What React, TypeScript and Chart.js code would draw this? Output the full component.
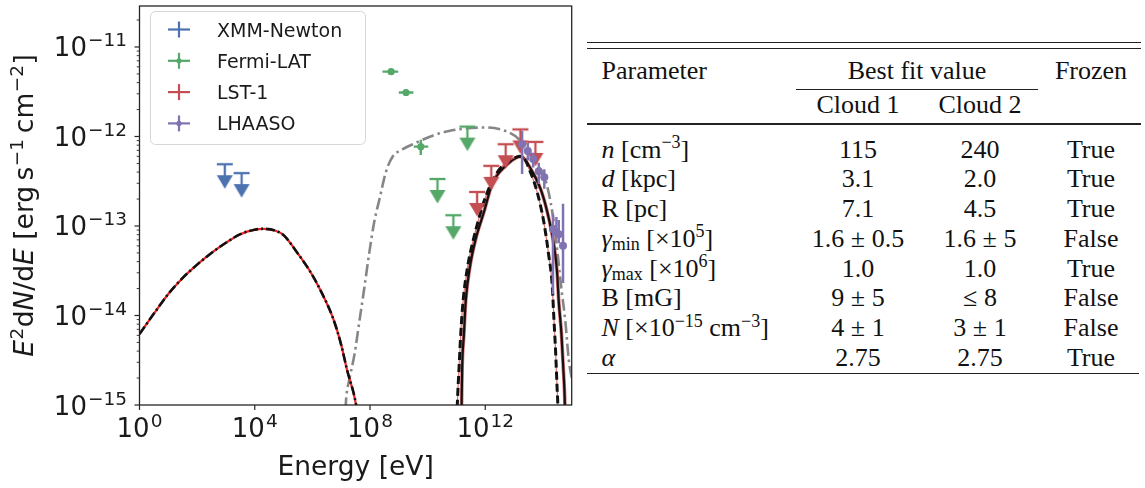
import React, { useEffect, useRef } from "react";
import { Chart, registerables } from "chart.js";

Chart.register(...registerables);

// ---------------- SED data (E in eV, E^2 dN/dE in erg s^-1 cm^-2) ----------------
const xmmE = [9.1e2, 3.5e3];
const xmmUL = [4.9e-13, 3.9e-13];

const fermiE = [5.4e8, 1.78e9, 5.8e9];
const fermiF = [5.3e-12, 3.1e-12, 7.7e-13];
const fermiELo = [2.7e8, 1.0e9, 3.3e9];
const fermiEHi = [9.5e8, 3.2e9, 1.05e10];
const fermiFLo = [4.9e-12, 2.85e-12, 6.2e-13];
const fermiFHi = [5.7e-12, 3.35e-12, 9.2e-13];

const fermiULE = [2.2e10, 7.8e10, 2.4e11];
const fermiUL = [3.35e-13, 1.32e-13, 1.29e-12];

const lstE = [5.2e11, 1.62e12, 5.1e12, 1.66e13, 5.5e13];
const lstUL = [2.4e-13, 4.7e-13, 8.2e-13, 1.2e-12, 8.7e-13];

const lhaasoE = [1.9e13, 3.0e13, 4.6e13, 7.2e13, 1.12e14, 2.24e14, 2.95e14, 3.55e14, 5.0e14];
const lhaasoF = [8.2e-13, 6.9e-13, 5.6e-13, 4.1e-13, 3.5e-13, 9.2e-14, 8.5e-14, 8.1e-14, 6.0e-14];
const lhaasoFLo = [3.8e-13, 5.4e-13, 4.5e-13, 2.95e-13, 2.6e-13, 1.73e-14, 7.6e-14, 6.4e-14, 2.3e-14];
const lhaasoFHi = [1.15e-12, 8.5e-13, 6.6e-13, 5.1e-13, 4.3e-13, 1.37e-13, 1.26e-13, 1.17e-13, 1.77e-13];

// model curves
const syncE = [1, 3.16, 10, 31.6, 100, 316, 1000, 3160, 1.0e4, 2.0e4, 5.0e4, 1.0e5, 3.16e5, 7.9e5, 1.78e6, 5.1e6, 1.0e7, 1.58e7, 3.3e7, 4.0e7];
const syncF = [6.2e-15, 1.05e-14, 1.74e-14, 2.63e-14, 3.7e-14, 5.0e-14, 6.5e-14, 8.1e-14, 9.1e-14, 9.3e-14, 8.9e-14, 7.9e-14, 4.9e-14, 3.2e-14, 2.0e-14, 9.5e-15, 4.7e-15, 2.5e-15, 1.0e-15, 6.3e-16];

const icE = [1.3e7, 1.48e7, 1.9e7, 2.9e7, 4.3e7, 6.3e7, 9.5e7, 1.41e8, 2.14e8, 3.55e8, 6.0e8, 1.35e9, 3.9e9, 1.48e10, 5.5e10, 2.1e11, 1.02e12, 5.1e12, 1.48e13, 6.2e13, 1.35e14, 2.5e14, 4.5e14, 6.0e14, 7.9e14, 1.0e15];
const icF = [5e-16, 1.15e-15, 1.9e-15, 3.7e-15, 8.7e-15, 2.0e-14, 5.1e-14, 1.12e-13, 2.0e-13, 4.0e-13, 5.9e-13, 7.2e-13, 8.5e-13, 1.02e-12, 1.15e-12, 1.23e-12, 1.26e-12, 1.15e-12, 9.3e-13, 4.9e-13, 2.95e-13, 1.0e-13, 1.86e-14, 8.7e-15, 3.2e-15, 2.0e-15];

const ppAE = [1.45e11, 1.51e11, 1.58e11, 1.82e11, 2.1e11, 2.9e11, 4.7e11, 9.1e11, 1.74e12, 5.1e12, 1.29e13, 1.74e13, 3.7e13, 8.3e13, 1.41e14, 2.4e14, 3.1e14, 3.55e14, 4.4e14, 5.1e14, 5.8e14, 6.0e14];
const ppAF = [5e-16, 1.0e-15, 2.6e-15, 6.2e-15, 1.45e-14, 3.4e-14, 7.2e-14, 1.45e-13, 2.95e-13, 4.7e-13, 5.9e-13, 6.0e-13, 4.4e-13, 2.6e-13, 1.45e-13, 6.2e-14, 3.1e-14, 1.45e-14, 6.3e-15, 2.6e-15, 1.0e-15, 5e-16];

const ppBE = [1.0e11, 1.07e11, 1.23e11, 1.41e11, 1.7e11, 2.4e11, 4.1e11, 1.02e12, 2.95e12, 8.5e12, 1.9e13, 3.7e13, 6.3e13, 1.07e14, 1.58e14, 2.1e14, 2.4e14, 2.75e14, 3.1e14, 3.3e14, 3.45e14];
const ppBF = [5e-16, 1.0e-15, 2.6e-15, 6.2e-15, 1.45e-14, 3.4e-14, 7.6e-14, 2.1e-13, 4.2e-13, 5.6e-13, 6.0e-13, 4.0e-13, 2.4e-13, 1.12e-13, 4.8e-14, 2.2e-14, 9.5e-15, 4.1e-15, 1.6e-15, 1.0e-15, 5e-16];

// axes
const xMin = 1;
const xMax = 1e15;
const yMin = 1e-15;
const yMax = 2.87e-11;
const xTickExps = [0, 4, 8, 12];
const yTickExps = [-15, -14, -13, -12, -11];
const legendLabels = ["XMM-Newton", "Fermi-LAT", "LST-1", "LHAASO"];

// ---------------- table data ----------------
const tableHeader = ["Parameter", "Best fit value", "Frozen"];
const cloudHeaders = ["Cloud 1", "Cloud 2"];
const cloud1Values = ["115", "3.1", "7.1", "1.6 ± 0.5", "1.0", "9 ± 5", "4 ± 1", "2.75"];
const cloud2Values = ["240", "2.0", "4.5", "1.6 ± 5", "1.0", "≤ 8", "3 ± 1", "2.75"];
const frozenValues = ["True", "True", "True", "False", "True", "False", "False", "True"];

function Sup(props: { children: React.ReactNode }) {
  return <span style={{ fontSize: 18, position: "relative", top: -9.5, lineHeight: 0 }}>{props.children}</span>;
}
function Sub(props: { children: React.ReactNode }) {
  return <span style={{ fontSize: 18, position: "relative", top: 3.5, lineHeight: 0 }}>{props.children}</span>;
}

const paramLabels: React.ReactNode[] = [
  <><i>n</i> [cm<Sup>−3</Sup>]</>,
  <><i>d</i> [kpc]</>,
  <>R [pc]</>,
  <><i>γ</i><Sub>min</Sub> [×10<Sup>5</Sup>]</>,
  <><i>γ</i><Sub>max</Sub> [×10<Sup>6</Sup>]</>,
  <>B [mG]</>,
  <><i>N</i> [×10<Sup>−15</Sup> cm<Sup>−3</Sup>]</>,
  <><i>α</i></>,
];

// ---------------- styles ----------------
const COL = { xmm: "#4c72b0", fermi: "#55a868", lst: "#c44e52", lhaaso: "#8172b2" };
const FONT = '"DejaVu Sans", sans-serif';

function ulMarker(color: string): HTMLCanvasElement {
  const c = document.createElement("canvas");
  const w = 18, h = 54;
  c.width = w;
  c.height = h;
  const g = c.getContext("2d")!;
  const cy = h / 2;
  g.strokeStyle = color;
  g.fillStyle = color;
  g.lineWidth = 2.3;
  g.beginPath();
  g.moveTo(1, cy);
  g.lineTo(w - 1, cy);
  g.stroke();
  g.beginPath();
  g.moveTo(w / 2, cy);
  g.lineTo(w / 2, cy + 12);
  g.stroke();
  g.beginPath();
  g.moveTo(1, cy + 11);
  g.lineTo(w - 1, cy + 11);
  g.lineTo(w / 2, cy + 24.5);
  g.closePath();
  g.fill();
  return c;
}

const pts = (xs: number[], ys: number[]) => xs.map((x, i) => ({ x, y: ys[i] }));

function seg(ctx: CanvasRenderingContext2D, x1: number, y1: number, x2: number, y2: number) {
  ctx.beginPath();
  ctx.moveTo(x1, y1);
  ctx.lineTo(x2, y2);
  ctx.stroke();
}

function drawPow(ctx: CanvasRenderingContext2D, x: number, y: number, exp: string, align: "center" | "right") {
  const base = 26, sup = 18.5, raise = 10;
  ctx.font = `${base}px ${FONT}`;
  const wb = ctx.measureText("10").width;
  ctx.font = `${sup}px ${FONT}`;
  const we = ctx.measureText(exp).width;
  const total = wb + 1 + we;
  const x0 = align === "center" ? x - total / 2 : x - total;
  ctx.textAlign = "left";
  ctx.textBaseline = "alphabetic";
  ctx.font = `${base}px ${FONT}`;
  ctx.fillText("10", x0, y);
  ctx.font = `${sup}px ${FONT}`;
  ctx.fillText(exp, x0 + wb + 1, y - raise);
}

const expText = (e: number) => (e < 0 ? "\u2212" + String(-e) : String(e));

const sedPlugin = {
  id: "sedDecor",
  afterDatasetsDraw(chart: any) {
    const ctx: CanvasRenderingContext2D = chart.ctx;
    const xs = chart.scales.x, ys = chart.scales.y;
    const { left, right, top, bottom } = chart.chartArea;
    ctx.save();
    ctx.beginPath();
    ctx.rect(left, top, right - left, bottom - top);
    ctx.clip();
    ctx.lineWidth = 2.4;
    ctx.strokeStyle = COL.fermi;
    fermiE.forEach((e, i) => {
      const x = xs.getPixelForValue(e), y = ys.getPixelForValue(fermiF[i]);
      seg(ctx, xs.getPixelForValue(fermiELo[i]), y, xs.getPixelForValue(fermiEHi[i]), y);
      seg(ctx, x, ys.getPixelForValue(fermiFLo[i]), x, ys.getPixelForValue(fermiFHi[i]));
    });
    ctx.strokeStyle = COL.lhaaso;
    ctx.lineWidth = 2.5;
    lhaasoE.forEach((e, i) => {
      const x = xs.getPixelForValue(e);
      seg(ctx, x, ys.getPixelForValue(lhaasoFLo[i]), x, ys.getPixelForValue(lhaasoFHi[i]));
    });
    ctx.restore();
  },
  afterDraw(chart: any) {
    const ctx: CanvasRenderingContext2D = chart.ctx;
    const xs = chart.scales.x, ys = chart.scales.y;
    const { left, right, top, bottom } = chart.chartArea;
    ctx.save();
    // frame
    ctx.strokeStyle = "#262626";
    ctx.lineWidth = 1.3;
    ctx.strokeRect(left, top, right - left, bottom - top);
    ctx.fillStyle = "#1a1a1a";
    ctx.lineWidth = 1.2;
    // x ticks
    xTickExps.forEach((e) => {
      const x = xs.getPixelForValue(Math.pow(10, e));
      seg(ctx, x, bottom, x, bottom + 5);
      drawPow(ctx, x, 436.5, expText(e), "center");
    });
    // y ticks
    yTickExps.forEach((e) => {
      const y = ys.getPixelForValue(Math.pow(10, e));
      seg(ctx, left - 5, y, left, y);
      drawPow(ctx, 127, y + 9.5, expText(e), "right");
      for (let m = 2; m <= 9; m++) {
        const v = m * Math.pow(10, e);
        if (v > yMax) break;
        const ym = ys.getPixelForValue(v);
        ctx.lineWidth = 0.9;
        seg(ctx, left - 2.8, ym, left, ym);
        ctx.lineWidth = 1.2;
      }
    });
    // x label
    ctx.font = `26.5px ${FONT}`;
    ctx.textAlign = "center";
    ctx.textBaseline = "alphabetic";
    ctx.fillText("Energy [eV]", (left + right) / 2, 475);
    // y label
    const parts: { t: string; it?: boolean; sup?: boolean }[] = [
      { t: "E", it: true }, { t: "2", sup: true }, { t: "d" }, { t: "N", it: true }, { t: "/d" },
      { t: "E", it: true }, { t: " [erg\u2009s" }, { t: "\u22121", sup: true }, { t: "\u2009cm" },
      { t: "\u22122", sup: true }, { t: "]" },
    ];
    const fontOf = (p: any) => (p.sup ? `18.5px ${FONT}` : `${p.it ? "oblique " : ""}26.5px ${FONT}`);
    let total = 0;
    const widths = parts.map((p) => {
      ctx.font = fontOf(p);
      const w = ctx.measureText(p.t).width + (p.sup ? 1 : 0);
      total += w;
      return w;
    });
    ctx.translate(33, (top + bottom) / 2);
    ctx.rotate(-Math.PI / 2);
    ctx.textAlign = "left";
    let cx = -total / 2;
    parts.forEach((p, i) => {
      ctx.font = fontOf(p);
      ctx.fillText(p.t, cx + (p.sup ? 0.5 : 0), p.sup ? -10.5 : 0);
      cx += widths[i];
    });
    ctx.setTransform(1, 0, 0, 1, 0, 0);
    // legend
    ctx.beginPath();
    (ctx as any).roundRect(150.5, 11.5, 215, 133, 5);
    ctx.fillStyle = "rgba(255,255,255,0.8)";
    ctx.fill();
    ctx.strokeStyle = "#d6d6d6";
    ctx.lineWidth = 1;
    ctx.stroke();
    const cols = [COL.xmm, COL.fermi, COL.lst, COL.lhaaso];
    legendLabels.forEach((lab, i) => {
      const y = 29.5 + i * 31.3;
      ctx.strokeStyle = cols[i];
      ctx.lineWidth = 2.2;
      seg(ctx, 168, y, 190, y);
      seg(ctx, 179, y - 8, 179, y + 8);
      if (i === 1 || i === 3) {
        ctx.fillStyle = cols[i];
        ctx.beginPath();
        ctx.arc(179, y, 2.6, 0, Math.PI * 2);
        ctx.fill();
      }
      ctx.fillStyle = "#1a1a1a";
      ctx.font = `19px ${FONT}`;
      ctx.textAlign = "left";
      ctx.fillText(lab, 217, y + 7);
    });
    ctx.restore();
  },
};

function SedChart() {
  const ref = useRef<HTMLCanvasElement>(null);
  useEffect(() => {
    const canvas = ref.current!;
    const line = (data: any, color: string, width: number, dash: number[], order: number) => ({
      type: "scatter",
      data,
      showLine: true,
      borderColor: color,
      borderWidth: width,
      borderDash: dash,
      pointRadius: 0,
      fill: false,
      cubicInterpolationMode: "monotone",
      order,
    });
    const chart = new Chart(canvas, {
      type: "scatter",
      data: {
        datasets: [
          { data: pts(lhaasoE, lhaasoF), pointStyle: "circle", pointRadius: 4, backgroundColor: COL.lhaaso, borderWidth: 0, order: 0 },
          { data: pts(lstE, lstUL), pointStyle: ulMarker(COL.lst), pointRadius: 5, order: 1 },
          { data: pts(fermiE, fermiF), pointStyle: "circle", pointRadius: 3.6, backgroundColor: COL.fermi, borderWidth: 0, order: 1 },
          { data: pts(fermiULE, fermiUL), pointStyle: ulMarker(COL.fermi), pointRadius: 5, order: 1 },
          { data: pts(xmmE, xmmUL), pointStyle: ulMarker(COL.xmm), pointRadius: 5, order: 1 },
          line(pts(ppBE, ppBF), "#111", 3, [8, 4], 4),
          line(pts(ppBE, ppBF), "rgba(205,80,80,0.8)", 1.2, [], 5),
          line(pts(ppAE, ppAF), "#111", 2.2, [], 6),
          line(pts(ppAE, ppAF), "rgba(205,80,80,0.8)", 3.6, [], 7),
          line(pts(syncE, syncF), "#111", 2.6, [9, 3, 2, 3], 8),
          line(pts(syncE, syncF), "#ee2222", 2.2, [], 9),
          line(pts(icE, icF), "rgba(128,128,128,0.95)", 2.6, [12, 4, 2.5, 4], 10),
        ] as any,
      },
      options: {
        responsive: false,
        animation: false,
        devicePixelRatio: 1,
        layout: { padding: { top: 1.5, right: 8.3, left: 0, bottom: 0 } },
        plugins: { legend: { display: false }, tooltip: { enabled: false } },
        scales: {
          x: {
            type: "logarithmic",
            min: xMin,
            max: xMax,
            bounds: "data",
            grid: { display: false, drawTicks: false },
            border: { display: false },
            ticks: { display: false },
            afterFit: (s: any) => { s.height = 83; },
          },
          y: {
            type: "logarithmic",
            min: yMin,
            max: yMax,
            bounds: "data",
            grid: { display: false, drawTicks: false },
            border: { display: false },
            ticks: { display: false },
            afterFit: (s: any) => { s.width = 139.5; },
          },
        },
      } as any,
      plugins: [sedPlugin as any],
    });
    return () => chart.destroy();
  }, []);
  return <canvas ref={ref} width={580} height={488} style={{ position: "absolute", left: 0, top: 0, width: 580, height: 488 }} />;
}

// ---------------- table ----------------
const SERIF = '"Liberation Serif", "Times New Roman", serif';
const BASE_OFF = 21.8; // baseline offset for 26px Liberation Serif with 26px line-height

function Cell(props: { x: number; baseline: number; align: "left" | "center"; children: React.ReactNode }) {
  const { x, baseline, align, children } = props;
  const style: React.CSSProperties = {
    position: "absolute",
    top: baseline - BASE_OFF,
    lineHeight: "26px",
    fontSize: 26,
    fontFamily: SERIF,
    color: "#111",
    whiteSpace: "nowrap",
  };
  if (align === "center") {
    style.left = x - 120;
    style.width = 240;
    style.textAlign = "center";
  } else {
    style.left = x;
  }
  return <div style={style}>{children}</div>;
}

function Rule(props: { x1: number; x2: number; y: number }) {
  return <div style={{ position: "absolute", left: props.x1, top: props.y, width: props.x2 - props.x1, height: 1.3, background: "#222" }} />;
}

function ParamTable() {
  const paramX = 601.5;
  const c1 = 858, c2 = 980, fz = 1091, bestX = 917;
  const row0 = 158.3, pitch = 29.77;
  return (
    <>
      <Rule x1={587} x2={1141} y={42} />
      <Rule x1={587} x2={1141} y={47.7} />
      <Cell x={paramX} baseline={80} align="left">{tableHeader[0]}</Cell>
      <Cell x={bestX} baseline={80} align="center">{tableHeader[1]}</Cell>
      <Cell x={fz} baseline={80} align="center">{tableHeader[2]}</Cell>
      <Rule x1={796} x2={1038} y={88.7} />
      <Cell x={c1} baseline={113.3} align="center">{cloudHeaders[0]}</Cell>
      <Cell x={c2} baseline={113.3} align="center">{cloudHeaders[1]}</Cell>
      <Rule x1={587} x2={1141} y={123.4} />
      {paramLabels.map((lab, i) => (
        <React.Fragment key={i}>
          <Cell x={paramX} baseline={row0 + i * pitch} align="left">{lab}</Cell>
          <Cell x={c1} baseline={row0 + i * pitch} align="center">{cloud1Values[i]}</Cell>
          <Cell x={c2} baseline={row0 + i * pitch} align="center">{cloud2Values[i]}</Cell>
          <Cell x={fz} baseline={row0 + i * pitch} align="center">{frozenValues[i]}</Cell>
        </React.Fragment>
      ))}
      <Rule x1={587} x2={1139} y={372.7} />
    </>
  );
}

export default function App() {
  return (
    <div style={{ position: "absolute", left: 0, top: 0, width: 1145, height: 488, background: "#fff", overflow: "hidden" }}>
      <SedChart />
      <ParamTable />
    </div>
  );
}
